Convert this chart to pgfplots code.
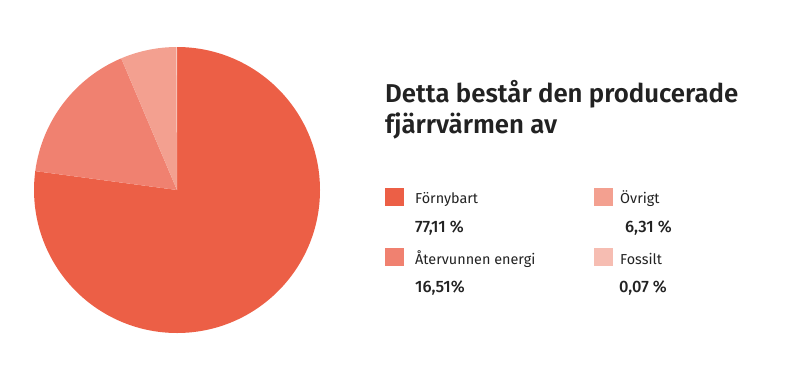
\documentclass[border=0pt]{standalone}
\usepackage{pgfplots}
\pgfplotsset{compat=1.18}
\usepackage{fontspec}
\setmainfont{Fira Sans}[BoldFont={Fira Sans SemiBold}]
\newfontfamily\medfont{Fira Sans Medium}
\definecolor{cA}{HTML}{EC5F46}
\definecolor{cB}{HTML}{F08170}
\definecolor{cC}{HTML}{F3A090}
\definecolor{cD}{HTML}{F6BDB2}
\definecolor{txt}{HTML}{222222}
\begin{document}
\begin{tikzpicture}[x=1pt,y=1pt]
\useasboundingbox (0,0) rectangle (794,376);
\begin{axis}[hide axis, scale only axis, width=286pt, height=286pt,
  at={(177pt,186pt)}, anchor=center, xmin=-1, xmax=1, ymin=-1, ymax=1, clip=false]
% values in percent: 77.11, 16.51, 6.31, 0.07 (clockwise from 12 o'clock)
\fill[cA] (axis cs:0,0) -- (axis cs:0,1) arc[start angle=90, end angle={90-3.6*77.11}, radius=143pt] -- cycle;
\fill[cB] (axis cs:0,0) -- (axis cs:{cos(90-3.6*77.11)},{sin(90-3.6*77.11)}) arc[start angle={90-3.6*77.11}, end angle={90-3.6*(77.11+16.51)}, radius=143pt] -- cycle;
\fill[cC] (axis cs:0,0) -- (axis cs:{cos(90-3.6*93.62)},{sin(90-3.6*93.62)}) arc[start angle={90-3.6*93.62}, end angle={90-3.6*(93.62+6.31)}, radius=143pt] -- cycle;
\fill[cD] (axis cs:0,0) -- (axis cs:{cos(90-3.6*99.93)},{sin(90-3.6*99.93)}) arc[start angle={90-3.6*99.93}, end angle={90-3.6*(99.93+0.07)}, radius=143pt] -- cycle;
\end{axis}
\node[anchor=base west, inner sep=0, font=\fontsize{25.8}{30}\selectfont\bfseries, text=txt] at (385,274) {Detta består den producerade};
\node[anchor=base west, inner sep=0, font=\fontsize{25.8}{30}\selectfont\bfseries, text=txt] at (385,243) {fjärrvärmen av};
% legend
\fill[cA] (385,170) rectangle (404,188);
\fill[cB] (385,110) rectangle (404,128);
\fill[cC] (594,170) rectangle (613,188);
\fill[cD] (594,110) rectangle (613,128);
\node[anchor=base west, inner sep=0, font=\fontsize{14.4}{16}\selectfont, text=txt] at (415,173) {Förnybart};
\node[anchor=base west, inner sep=0, font=\fontsize{16.5}{18}\selectfont\medfont, text=txt] at (415,144) {77,11 \%};
\node[anchor=base west, inner sep=0, font=\fontsize{14.4}{16}\selectfont, text=txt] at (415,112) {Återvunnen energi};
\node[anchor=base west, inner sep=0, font=\fontsize{16.5}{18}\selectfont\medfont, text=txt] at (415,84) {16,51\%};
\node[anchor=base west, inner sep=0, font=\fontsize{14.4}{16}\selectfont, text=txt] at (620,173) {Övrigt};
\node[anchor=base west, inner sep=0, font=\fontsize{16.5}{18}\selectfont\medfont, text=txt] at (625,144) {6,31 \%};
\node[anchor=base west, inner sep=0, font=\fontsize{14.4}{16}\selectfont, text=txt] at (620,112) {Fossilt};
\node[anchor=base west, inner sep=0, font=\fontsize{16.5}{18}\selectfont\medfont, text=txt] at (619,84) {0,07 \%};
\end{tikzpicture}
\end{document}
